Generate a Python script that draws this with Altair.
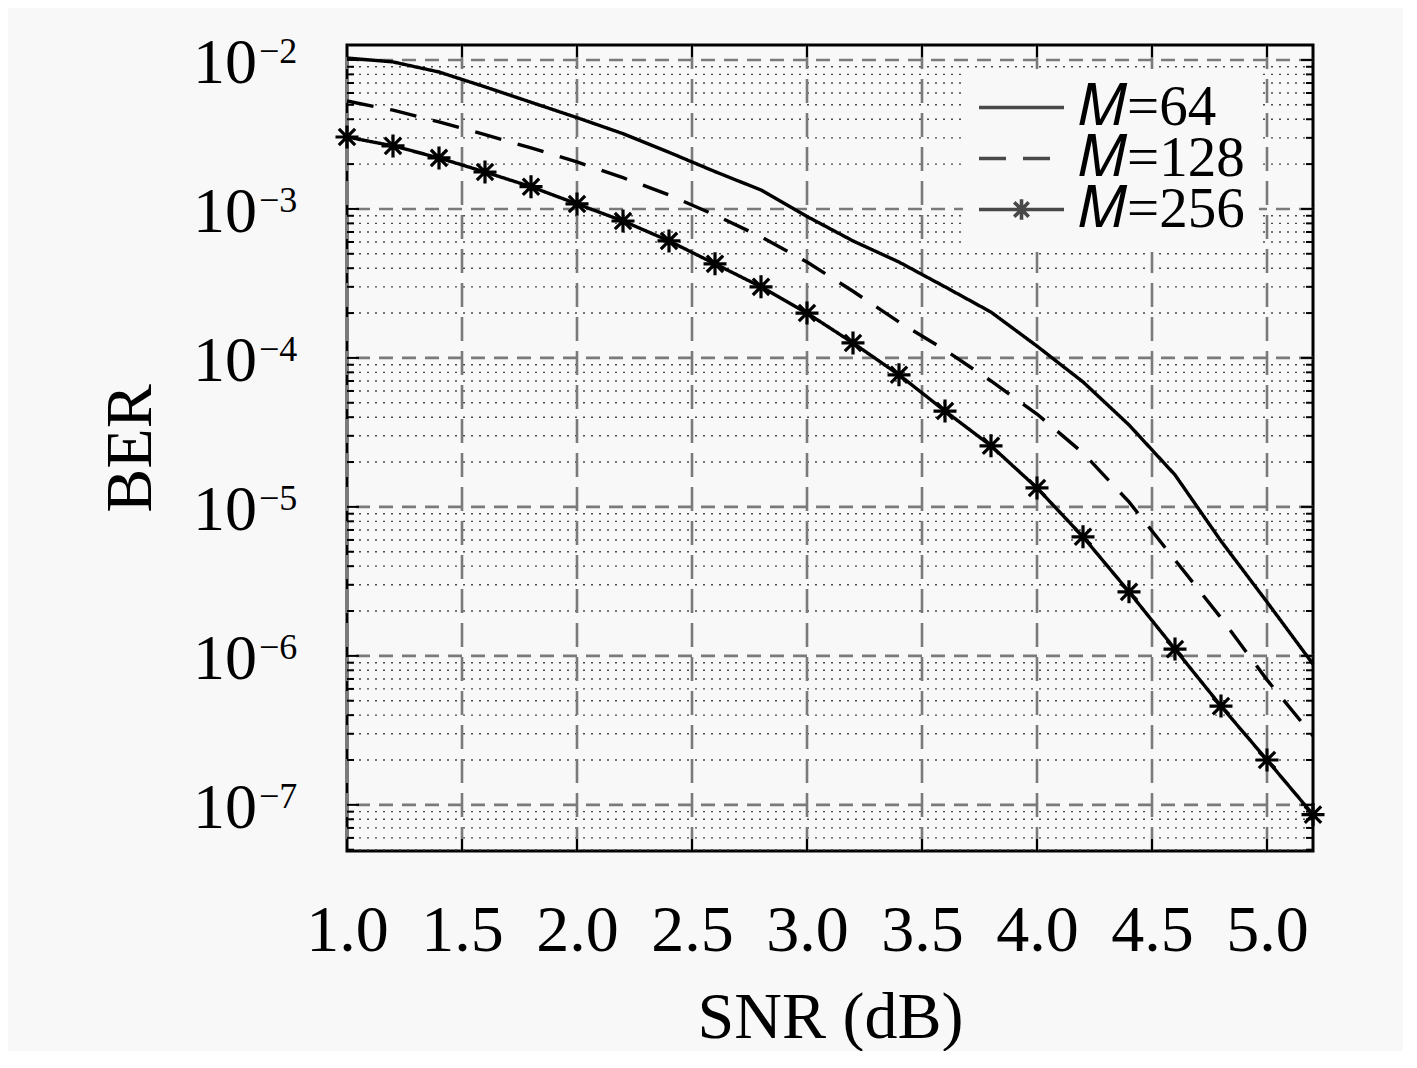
import altair as alt
import pandas as pd

# ---------------- data ----------------
snr = [1.0, 1.2, 1.4, 1.6, 1.8, 2.0, 2.2, 2.4, 2.6, 2.8, 3.0,
       3.2, 3.4, 3.6, 3.8, 4.0, 4.2, 4.4, 4.6, 4.8, 5.0, 5.2]
ber_64 = [1.03e-2, 9.7e-3, 8.3e-3, 6.6e-3, 5.2e-3, 4.1e-3, 3.2e-3, 2.4e-3,
          1.78e-3, 1.34e-3, 8.9e-4, 6.1e-4, 4.4e-4, 3.0e-4, 2.03e-4, 1.2e-4,
          6.9e-5, 3.55e-5, 1.64e-5, 5.9e-6, 2.3e-6, 8.8e-7]
ber_128 = [5.3e-3, 4.6e-3, 3.84e-3, 3.15e-3, 2.57e-3, 2.07e-3, 1.62e-3, 1.24e-3,
           9.1e-4, 6.5e-4, 4.4e-4, 2.8e-4, 1.74e-4, 1.13e-4, 7.0e-5, 4.2e-5,
           2.3e-5, 1.08e-5, 4.4e-6, 1.8e-6, 6.9e-7, 2.9e-7]
ber_256 = [3.04e-3, 2.65e-3, 2.2e-3, 1.77e-3, 1.41e-3, 1.08e-3, 8.3e-4, 6.1e-4,
           4.28e-4, 3.0e-4, 2.0e-4, 1.26e-4, 7.7e-5, 4.4e-5, 2.57e-5, 1.34e-5,
           6.3e-6, 2.69e-6, 1.11e-6, 4.6e-7, 2.0e-7, 8.6e-8]
series_labels = ["\U0001D440=64", "\U0001D440=128", "\U0001D440=256"]

x_ticks = [1.0, 1.5, 2.0, 2.5, 3.0, 3.5, 4.0, 4.5, 5.0]
y_major = [1e-2, 1e-3, 1e-4, 1e-5, 1e-6, 1e-7]
y_exp = ["\u22122", "\u22123", "\u22124", "\u22125", "\u22126", "\u22127"]
y_minor = [k * 10.0 ** d for d in range(-8, -2) for k in range(2, 10)
           if 4.9e-8 <= k * 10.0 ** d <= 1.26e-2]

x_domain = [1.0, 5.2]
y_domain = [4.9e-8, 1.26e-2]

# ---------------- frames ----------------
rows = []
for lab, vals in zip(series_labels, [ber_64, ber_128, ber_256]):
    for s, b in zip(snr, vals):
        rows.append({"snr": s, "ber": b, "series": lab})
df = pd.DataFrame(rows)
df256 = df[df["series"] == series_labels[2]]
xt_df = pd.DataFrame({"v": x_ticks})
ymaj_df = pd.DataFrame({"v": y_major, "exp": y_exp})
ymin_df = pd.DataFrame({"v": y_minor})

W, H = 966, 806
FONT = "Liberation Serif"
BG = "#f8f8f8"

xs = alt.Scale(domain=x_domain, nice=False, zero=False)
ys = alt.Scale(type="log", domain=y_domain, nice=False)

xaxis = alt.Axis(values=x_ticks, format=".1f", grid=False, ticks=False, tickSize=0,
                 domain=False, labelFlush=False, labelFont=FONT, labelFontSize=66,
                 labelColor="black", labelBaseline="alphabetic", labelPadding=99,
                 title="SNR (dB)", titleFont=FONT, titleFontSize=66,
                 titleFontWeight="normal", titleColor="black",
                 titleBaseline="alphabetic", titleY=186)
yaxis = alt.Axis(labels=False, grid=False, ticks=False, tickSize=0, domain=False,
                 title="BER", titleFont=FONT, titleFontSize=66,
                 titleFontWeight="normal", titleColor="black",
                 titleBaseline="alphabetic", titleAlign="center",
                 titleX=-197, titleY=H / 2)

X = lambda f: alt.X(f, scale=xs, axis=xaxis)
Y = lambda f: alt.Y(f, scale=ys, axis=yaxis)

# data marker: 8-spoke asterisk
ASTERISK = "M-1,0L1,0M0,-1L0,1M-0.71,-0.71L0.71,0.71M-0.71,0.71L0.71,-0.71"
# legend symbols: a line, optionally with a small asterisk in the middle
R = 0.24
D = R * 0.71
LEG_PLAIN = "M-1,0L1,0"
LEG_STAR = f"M-1,0L1,0M0,{-R}L0,{R}M{-D},{-D}L{D},{D}M{-D},{D}L{D},{-D}"

LEG_X, LEG_Y, LEG_PAD = 616, 26, 14
LEG_LINE = 85

legend = alt.Legend(
    title=None, orient="none", legendX=LEG_X, legendY=LEG_Y, padding=LEG_PAD,
    fillColor=BG, labelFont=FONT, labelFontSize=57, labelColor="black",
    labelOffset=13, labelLimit=0, rowPadding=-30, clipHeight=45,
    symbolSize=LEG_LINE * LEG_LINE, symbolStrokeColor="black",
    symbolStrokeWidth=3.6, symbolFillColor="transparent", symbolType="stroke",
)

minor_grid = alt.Chart(ymin_df).mark_rule(
    color="#4a4a4a", strokeWidth=1.4, strokeDash=[2, 6]
).encode(y=Y("v:Q"))

major_hgrid = alt.Chart(ymaj_df).mark_rule(
    color="#7a7a7a", strokeWidth=2.6, strokeDash=[14, 9]
).encode(y=Y("v:Q"))

major_vgrid = alt.Chart(xt_df).mark_rule(
    color="#7a7a7a", strokeWidth=2.6, strokeDash=[24, 10]
).encode(x=X("v:Q"))

lines = alt.Chart(df).mark_line(color="black", strokeWidth=3.4).encode(
    x=X("snr:Q"),
    y=Y("ber:Q"),
    strokeDash=alt.StrokeDash(
        "series:N",
        scale=alt.Scale(domain=series_labels, range=[[1, 0], [27, 17], [1, 0]]),
        legend=legend,
    ),
    order="snr:Q",
)

# legend-only layer (no rows drawn): gives the legend its line+marker symbols
legend_shapes = alt.Chart(df).transform_filter("false").mark_point(
    filled=False, stroke="black"
).encode(
    x=X("snr:Q"), y=Y("ber:Q"),
    shape=alt.Shape(
        "series:N",
        scale=alt.Scale(domain=series_labels,
                        range=[LEG_PLAIN, LEG_PLAIN, LEG_STAR]),
        legend=legend,
    ),
)

points = alt.Chart(df256).mark_point(
    shape=ASTERISK, size=23 * 23, filled=False, stroke="black",
    strokeWidth=3.2, opacity=1
).encode(x=X("snr:Q"), y=Y("ber:Q"))

tick_b = alt.Chart(xt_df).mark_rule(color="black", strokeWidth=2).encode(
    x=X("v:Q"), y=alt.value(H), y2=alt.value(H - 12))
tick_t = alt.Chart(xt_df).mark_rule(color="black", strokeWidth=2).encode(
    x=X("v:Q"), y=alt.value(0), y2=alt.value(12))
tick_l = alt.Chart(ymaj_df).mark_rule(color="black", strokeWidth=2).encode(
    y=Y("v:Q"), x=alt.value(0), x2=alt.value(12))
tick_r = alt.Chart(ymaj_df).mark_rule(color="black", strokeWidth=2).encode(
    y=Y("v:Q"), x=alt.value(W), x2=alt.value(W - 12))
mtick_l = alt.Chart(ymin_df).mark_rule(color="black", strokeWidth=2).encode(
    y=Y("v:Q"), x=alt.value(0), x2=alt.value(7))
mtick_r = alt.Chart(ymin_df).mark_rule(color="black", strokeWidth=2).encode(
    y=Y("v:Q"), x=alt.value(W), x2=alt.value(W - 7))

ylab_base = alt.Chart(ymaj_df).mark_text(
    text="10", align="right", baseline="middle", font=FONT, fontSize=64,
    color="black", dy=4
).encode(y=Y("v:Q"), x=alt.value(-90))
ylab_exp = alt.Chart(ymaj_df).mark_text(
    align="left", baseline="middle", font=FONT, fontSize=36,
    color="black", dy=-8
).encode(y=Y("v:Q"), x=alt.value(-88), text="exp:N")

chart = alt.layer(
    minor_grid, major_hgrid, major_vgrid, lines, legend_shapes, points,
    tick_b, tick_t, tick_l, tick_r, mtick_l, mtick_r,
    ylab_base, ylab_exp,
).properties(
    width=W, height=H,
    autosize=alt.AutoSizeParams(type="none"),
    padding={"left": 339, "top": 37, "right": 90, "bottom": 200},
    background=BG,
).configure_view(stroke="black", strokeWidth=3)

chart.save("out.html", embed_options={"renderer": "svg", "actions": False})
